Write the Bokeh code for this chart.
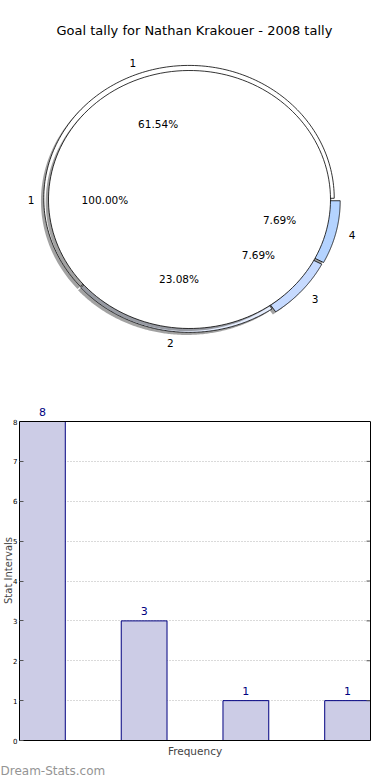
import numpy as np
from bokeh.plotting import figure
from bokeh.models import (ColumnDataSource, Label, LabelSet, LinearAxis,
                          FixedTicker, Range1d, Span, Title)
from bokeh.layouts import column
from bokeh.embed import file_html
from bokeh.resources import INLINE
from bokeh.core.properties import value

# ---------------- data ----------------
title_text = "Goal tally for Nathan Krakouer - 2008 tally"
outer_labels = ["1", "2", "3", "4"]
outer_values = [8, 3, 1, 1]
outer_colors = ["#ffffff", "#e6eeff", "#c6daff", "#b4d3ff"]
outer_explode = [0.01, 0.0, 0.035, 0.04]
inner_labels = ["1"]
inner_values = [1]
inner_colors = ["#ffffff"]

bar_categories = ["1", "2", "3", "4"]
bar_values = [8, 3, 1, 1]
y_ticks = [0, 1, 2, 3, 4, 5, 6, 7, 8]
y_max = 8
x_axis_title = "Frequency"
y_axis_title = "Stat Intervals"
watermark = "Dream-Stats.com"

FONT = "DejaVu Sans"

# ---------------- pie ----------------
R_OUT = 1.03
R_IN = 1.0
LBL_D = 1.09
PCT_D = 0.6
SH = -0.02


def wedge_pts(cx, cy, r, t1, t2, n=160):
    th = np.linspace(t1, t2, n)
    xs = cx + r * np.cos(th)
    ys = cy + r * np.sin(th)
    if t2 - t1 < 2 * np.pi - 1e-9:
        xs = np.concatenate([[cx], xs, [cx]])
        ys = np.concatenate([[cy], ys, [cy]])
    return list(xs), list(ys)


def pie_geometry(values, radius, explode, labels, lbl_d, left_align):
    vals = np.asarray(values, dtype=float)
    frac = vals / vals.sum()
    ends = np.cumsum(frac) * 2 * np.pi
    starts = ends - frac * 2 * np.pi
    out = dict(xs=[], ys=[], sxs=[], sys=[], lx=[], ly=[], lalign=[],
               px=[], py=[], pct=[], lab=[])
    for i in range(len(vals)):
        tm = 0.5 * (starts[i] + ends[i])
        cx = explode[i] * np.cos(tm)
        cy = explode[i] * np.sin(tm)
        xs, ys = wedge_pts(cx, cy, radius, starts[i], ends[i])
        out["xs"].append(xs)
        out["ys"].append(ys)
        out["sxs"].append([v + SH for v in xs])
        out["sys"].append([v + SH for v in ys])
        lx = cx + lbl_d * radius * np.cos(tm)
        ly = cy + lbl_d * radius * np.sin(tm)
        out["lx"].append(lx)
        out["ly"].append(ly)
        out["lalign"].append("left" if lx > 0 else left_align)
        out["px"].append(cx + PCT_D * radius * np.cos(tm))
        out["py"].append(cy + PCT_D * radius * np.sin(tm))
        out["pct"].append("%.2f%%" % (100 * frac[i]))
        out["lab"].append(labels[i])
    return out


p1 = figure(width=390, height=400, output_backend="svg", toolbar_location=None,
            x_range=Range1d(-1.3404, 1.4255), y_range=Range1d(-1.5581, 1.5426),
            min_border=0, x_axis_location=None, y_axis_location=None)
p1.frame_align = False
p1.grid.visible = False
p1.outline_line_color = None

og = pie_geometry(outer_values, R_OUT, outer_explode, outer_labels, LBL_D, "center")
ig = pie_geometry(inner_values, R_IN, [0.0] * len(inner_values), inner_labels,
                  1.1, "right")

for g, cols in ((og, outer_colors), (ig, inner_colors)):
    p1.patches(xs=g["sxs"], ys=g["sys"], fill_color="#555555", fill_alpha=0.55,
               line_color=None)
    src = ColumnDataSource(dict(xs=g["xs"], ys=g["ys"], c=cols))
    p1.patches(xs="xs", ys="ys", source=src, fill_color="c", line_color="black",
               line_width=0.8)

for g in (og, ig):
    s = ColumnDataSource(dict(x=g["lx"], y=g["ly"], t=g["lab"], a=g["lalign"]))
    p1.text(x="x", y="y", text="t", source=s, text_align="a",
            text_baseline="middle", text_font=value(FONT),
            text_font_size="10.5px", text_color="black")
    s2 = ColumnDataSource(dict(x=g["px"], y=g["py"], t=g["pct"]))
    p1.text(x="x", y="y", text="t", source=s2, text_align="center",
            text_baseline="middle", text_font=value(FONT),
            text_font_size="10.5px", text_color="black")

p1.add_layout(Label(x=0.035, y=1.31, text=title_text, text_align="center",
                    text_baseline="middle", text_font=FONT,
                    text_font_size="13px", text_color="black"))

# ---------------- bars ----------------
BW = 0.45
xpos = list(range(len(bar_categories)))
x_start = -BW / 2
x_end = len(bar_categories) - 1 + BW / 2
# frame runs from canvas top to the x axis; y = y_max lands 21px below the top
y_end = y_max * 340.0 / 319.0
p2 = figure(width=390, height=380, output_backend="svg", toolbar_location=None,
            title=None,
            x_range=Range1d(x_start, x_end), y_range=Range1d(0, y_end),
            min_border_left=19, min_border_right=20, min_border_top=0,
            min_border_bottom=40, x_axis_location=None, y_axis_location=None)
p2.frame_align = False
p2.outline_line_color = None
p2.xgrid.visible = False
p2.ygrid.ticker = FixedTicker(ticks=y_ticks[1:-1])
p2.ygrid.grid_line_color = "#b4b4b4"
p2.ygrid.grid_line_dash = "1 2"
p2.ygrid.grid_line_width = 1

bsrc = ColumnDataSource(dict(x=xpos, top=bar_values,
                             t=[str(v) for v in bar_values]))
p2.vbar(x="x", top="top", width=BW, bottom=0, source=bsrc,
        fill_color="#ccccE6", line_color="#000080", line_width=1)
p2.add_layout(LabelSet(x="x", y="top", text="t", source=bsrc, text_align="center",
                       text_baseline="bottom", y_offset=6, text_font=value(FONT),
                       text_font_size="11px", text_color="#000080"))

p2.add_layout(Span(location=y_max, dimension="width", line_color="black",
                   line_width=1))

# inward tick marks on the right edge
p2.ray(x=[x_end] * len(y_ticks), y=y_ticks, length=4, length_units="screen",
       angle=np.pi, line_color="#555555", line_width=1)

yl = LinearAxis(ticker=FixedTicker(ticks=y_ticks), bounds=(0, y_max),
                axis_line_color="black", axis_line_width=1,
                major_tick_in=4, major_tick_out=0, major_tick_line_color="#555555",
                minor_tick_line_color=None, major_label_standoff=2,
                major_label_text_font=FONT, major_label_text_font_size="7px",
                major_label_text_color="black",
                axis_label=y_axis_title, axis_label_standoff=-4,
                axis_label_text_font=FONT, axis_label_text_font_style="normal",
                axis_label_text_font_size="10px", axis_label_text_line_height=1.0)
p2.add_layout(yl, "left")
yr = LinearAxis(ticker=FixedTicker(ticks=[]), bounds=(0, y_max),
                axis_line_color="black", axis_line_width=1,
                major_tick_in=0, major_tick_out=0,
                minor_tick_line_color=None, major_label_standoff=0)
p2.add_layout(yr, "right")
xb = LinearAxis(ticker=FixedTicker(ticks=[]), axis_line_color="black",
                minor_tick_line_color=None,
                major_label_standoff=0,
                axis_label=x_axis_title, axis_label_standoff=4,
                axis_label_text_font=FONT, axis_label_text_font_style="normal",
                axis_label_text_font_size="10.5px")
p2.add_layout(xb, "below")
p2.add_layout(Title(text=watermark, align="left", offset=-19, standoff=4,
                    text_font=FONT, text_font_style="normal",
                    text_font_size="12px", text_color="#949494"), "below")

layout = column(p1, p2, spacing=0)
open("out.html", "w").write(file_html(layout, INLINE))
